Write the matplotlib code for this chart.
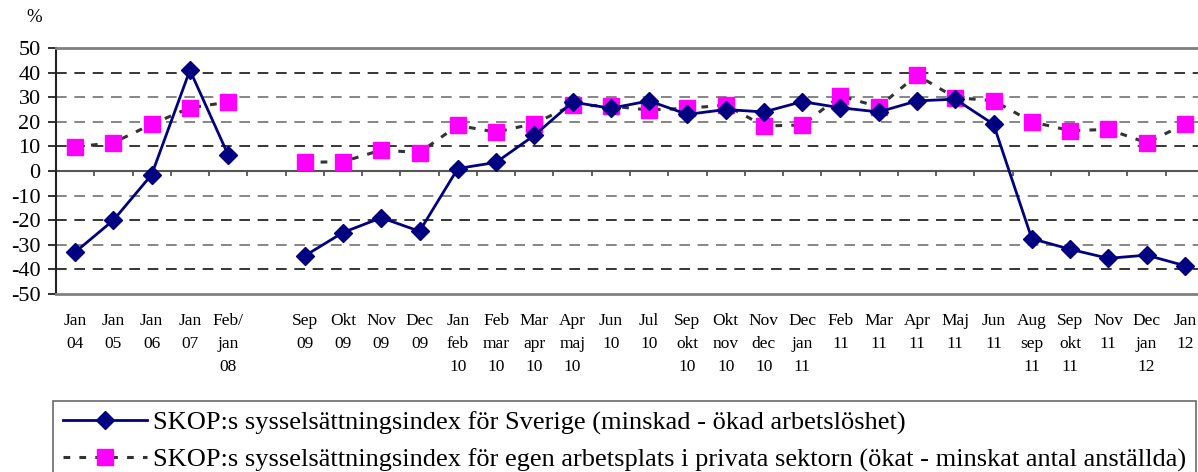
import numpy as np
import matplotlib
matplotlib.use('Agg')
import matplotlib.pyplot as plt

plt.rcParams['font.family'] = ['Liberation Serif', 'DejaVu Serif']
plt.rcParams['axes.unicode_minus'] = False

labels = ['Jan\n04', 'Jan\n05', 'Jan\n06', 'Jan\n07', 'Feb/\njan\n08', '',
          'Sep\n09', 'Okt\n09', 'Nov\n09', 'Dec\n09', 'Jan\nfeb\n10', 'Feb\nmar\n10',
          'Mar\napr\n10', 'Apr\nmaj\n10', 'Jun\n10', 'Jul\n10', 'Sep\nokt\n10',
          'Okt\nnov\n10', 'Nov\ndec\n10', 'Dec\njan\n11', 'Feb\n11', 'Mar\n11',
          'Apr\n11', 'Maj\n11', 'Jun\n11', 'Aug\nsep\n11', 'Sep\nokt\n11',
          'Nov\n11', 'Dec\njan\n12', 'Jan\n12']

sverige = [-33, -20, -1.5, 41, 6.5, np.nan,
           -34.5, -25, -19, -24.5, 1, 3.5, 14.5, 28, 25.5, 28.5, 23, 25, 24,
           28.2, 25.7, 24, 28.5, 29.2, 19, -27.5, -31.8, -35.5, -34.2, -38.5]

privata = [9.8, 11.5, 19, 25.7, 28, np.nan,
           3.5, 3.8, 8.5, 7.5, 18.5, 15.8, 19.3, 26.8, 26.4, 24.8, 25.5, 26.8,
           18.3, 18.7, 30.5, 26.1, 39, 29.8, 28.6, 20, 16.4, 16.9, 11.5, 19]

legend_labels = ['SKOP:s sysselsättningsindex för Sverige (minskad - ökad arbetslöshet)',
                 'SKOP:s sysselsättningsindex för egen arbetsplats i privata sektorn (ökat - minskat antal anställda)']

x = np.arange(len(labels))

fig = plt.figure(figsize=(11.98, 4.72), dpi=100)
ax = fig.add_axes([56 / 1198, 1 - 294 / 472, (1204 - 56) / 1198, (294 - 48) / 472])

for yv in [40, 30, 20, 10, -10, -20, -30, -40]:
    ax.axhline(yv, color='black' if yv in (40, 10, -20, -40) else '#666666',
               lw=1.1, ls=(0, (7, 5)), zorder=1)
ax.axhline(0, color='#555555', lw=1.5, zorder=1)
# category tick marks on zero line
ax.vlines(np.arange(len(labels) - 1) + 0.5, -2.2, 0, color='#555555', lw=1.3, zorder=1)

ax.plot(x, privata, color='#333333', ls=(0, (2.2, 3)), lw=2.2,
        marker='s', markersize=12, markerfacecolor='#FF00FF', markeredgecolor='#FF00FF',
        label=legend_labels[1], zorder=3)
ax.plot(x, sverige, color='#000080', lw=2, marker='D', markersize=9,
        markerfacecolor='#000080', markeredgecolor='#000080',
        label=legend_labels[0], zorder=4)

ax.set_xlim(-0.5, len(labels) - 0.5)
ax.set_ylim(-50, 50)
ax.set_yticks(range(-50, 51, 10))
ax.set_xticks(x)
ax.set_xticklabels(labels, fontsize=12.5, linespacing=1.58, va='top')
ax.tick_params(axis='x', length=0, pad=14)
ax.tick_params(axis='y', labelsize=16, length=6, color='#222222', width=1.3, pad=5)

for side in ['top', 'bottom']:
    ax.spines[side].set_color('#808080')
    ax.spines[side].set_linewidth(2)
ax.spines['left'].set_color('#222222')
ax.spines['left'].set_linewidth(1.5)
ax.spines['right'].set_visible(False)

fig.text(26 / 1198, 1 - 18 / 472, '%', fontsize=13.5, va='center')

h, l = ax.get_legend_handles_labels()
leg = fig.legend(h[::-1], l[::-1], loc='upper left', bbox_to_anchor=(53 / 1198, 1 - 401 / 472),
                 fontsize=19, frameon=True, fancybox=False, handlelength=3.2,
                 borderpad=0.38, labelspacing=0.5, handletextpad=0.2, borderaxespad=0)
leg.get_frame().set_edgecolor('#444444')
leg.get_frame().set_linewidth(1.2)

fig.savefig('out.png', dpi=100)
